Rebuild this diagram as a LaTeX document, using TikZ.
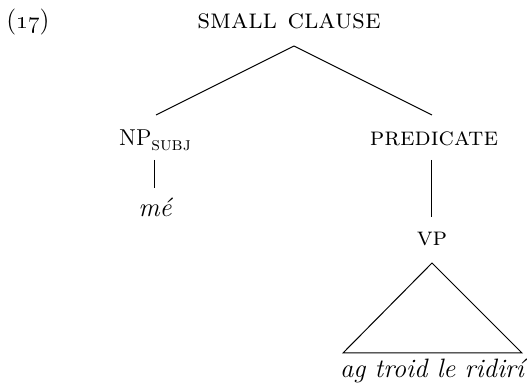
\documentclass[tikz,border=0pt]{standalone}
\begin{document}
\begin{tikzpicture}[x=0.5pt,y=-0.5pt,
  lbl/.style={inner sep=0pt,outer sep=0pt,anchor=base,font=\fontsize{13}{15}\selectfont},
  word/.style={lbl,font=\fontsize{13.3}{16}\selectfont\itshape},
  edge/.style={line width=0.5pt}]
\useasboundingbox (0,0) rectangle (527,385);
\node[lbl] (ex) at (28,29) {(\oldstylenums{17})};
\node[lbl,font=\fontsize{14}{16}\selectfont] (sc) at (289,29) {\textsc{small clause}};
\node[lbl,font=\fontsize{11.5}{14}\selectfont] (np) at (155,146) {NP\raisebox{-2.5pt}{\fontsize{9.5}{10}\selectfont\textsc{subj}}};
\node[lbl] (pr) at (434,146) {\textsc{predicate}};
\node[word] (me) at (155,217) {mé};
\node[lbl] (vp) at (432,246) {\textsc{vp}};
\node[word] (ag) at (432,378) {ag troid le ridirí};
\draw[edge] ([xshift=2.5pt,yshift=-8.5pt]sc.base) -- ([xshift=0.5pt,yshift=15.5pt]np.base);
\draw[edge] ([xshift=2.5pt,yshift=-8.5pt]sc.base) -- ([xshift=-1pt,yshift=15.5pt]pr.base);
\draw[edge] ([yshift=-7pt]np.base) -- ([yshift=14.5pt]me.base);
\draw[edge] ([xshift=-1pt,yshift=-7pt]pr.base) -- ([yshift=14.5pt]vp.base);
\draw[edge] ([yshift=-8.5pt]vp.base) -- ([xshift=-44.5pt,yshift=12.5pt]ag.base)
  -- ([xshift=45pt,yshift=12.5pt]ag.base) -- cycle;
\end{tikzpicture}
\end{document}
